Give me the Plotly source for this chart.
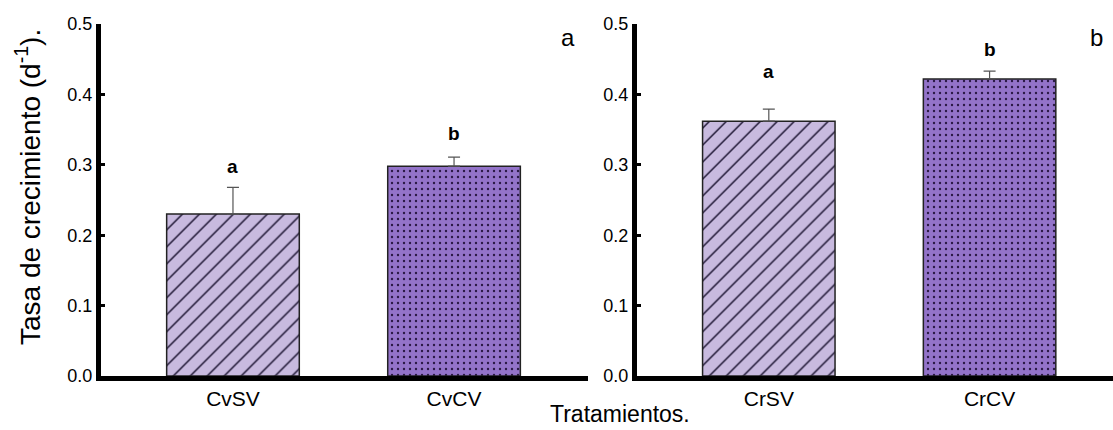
import plotly.graph_objects as go

# Growth rate per treatment, two culture groups
cats_left = ["CvSV", "CvCV"]
vals_left = [0.230, 0.298]
err_left = [0.038, 0.013]
sig_left = ["a", "b"]
sig_y_left = [0.297, 0.344]

cats_right = ["CrSV", "CrCV"]
vals_right = [0.362, 0.422]
err_right = [0.017, 0.011]
sig_right = ["a", "b"]
sig_y_right = [0.432, 0.464]

y_ticks = [0.0, 0.1, 0.2, 0.3, 0.4, 0.5]

W, H = 1113, 430
FONT = "Arial, Liberation Sans, sans-serif"
LIGHT = "#c8badf"
DARK = "#9373c9"

fills = [
    dict(shape="/", size=12, solidity=0.12, fgcolor="#1a1230", bgcolor=LIGHT, fillmode="replace"),
    dict(shape=".", size=6, solidity=0.12, fgcolor="#2a1845", bgcolor=DARK, fillmode="replace"),
]

fig = go.Figure()

for cats, vals, errs, xa, ya in [
    (cats_left, vals_left, err_left, "x", "y"),
    (cats_right, vals_right, err_right, "x2", "y2"),
]:
    for i in range(len(cats)):
        fig.add_trace(go.Bar(
            x=[cats[i]], y=[vals[i]], xaxis=xa, yaxis=ya,
            width=0.6,
            marker=dict(color=[LIGHT, DARK][i], pattern=fills[i],
                        line=dict(color="#222222", width=1.5)),
            error_y=dict(type="data", array=[errs[i]], arrayminus=[0], symmetric=False,
                         color="#555555", thickness=1.2, width=6),
            showlegend=False, hoverinfo="skip",
        ))

# Significance letters above each bar
for cats, letters, ys, xr, yr in [
    (cats_left, sig_left, sig_y_left, "x", "y"),
    (cats_right, sig_right, sig_y_right, "x2", "y2"),
]:
    for c, t, yv in zip(cats, letters, ys):
        fig.add_annotation(x=c, y=yv, xref=xr, yref=yr, text=f"<b>{t}</b>",
                           xanchor="center", yanchor="middle",
                           showarrow=False, font=dict(size=19, color="black", family=FONT))

def px_x(p):
    return p / W

def px_y(p):
    return (H - p) / H

y_dom = [px_y(376), px_y(24)]

axis_common = dict(showline=True, linecolor="black", linewidth=5, showgrid=False,
                   zeroline=False, automargin=False)
x_font = dict(size=21, color="black", family=FONT)
y_font = dict(size=18, color="black", family=FONT)

fig.update_layout(
    width=W, height=H,
    margin=dict(l=0, r=0, t=0, b=0, autoexpand=False),
    paper_bgcolor="white", plot_bgcolor="white",
    bargap=0.4,
    xaxis=dict(domain=[px_x(101), px_x(588)], range=[-0.597, 1.606], anchor="y",
               ticks="", tickfont=x_font, **axis_common),
    yaxis=dict(domain=y_dom, range=[0, 0.5], anchor="x", tickvals=y_ticks,
               tickformat=".1f", ticks="inside", ticklen=4, tickwidth=3, tickcolor="black",
               tickfont=y_font, **axis_common),
    xaxis2=dict(domain=[px_x(637), 1.0], range=[-0.597, 1.559], anchor="y2",
                ticks="", tickfont=x_font, **axis_common),
    yaxis2=dict(domain=y_dom, range=[0, 0.5], anchor="x2", tickvals=y_ticks,
                tickformat=".1f", ticks="inside", ticklen=4, tickwidth=3, tickcolor="black",
                tickfont=y_font, **axis_common),
)

# Y-axis title, shared x-axis title and panel labels
def label(x, y, text, size, angle=0):
    fig.add_annotation(x=px_x(x), y=px_y(y), xref="paper", yref="paper",
                       xanchor="center", yanchor="middle", textangle=angle,
                       text=text, showarrow=False,
                       font=dict(size=size, color="black", family=FONT))

label(28, 187, "Tasa de crecimiento (d<sup>-1</sup>).", 28, angle=-90)
label(620, 414, "Tratamientos.", 23)
label(568, 38, "a", 24)
label(1096, 37, "b", 24)

fig.write_html("out.html")
